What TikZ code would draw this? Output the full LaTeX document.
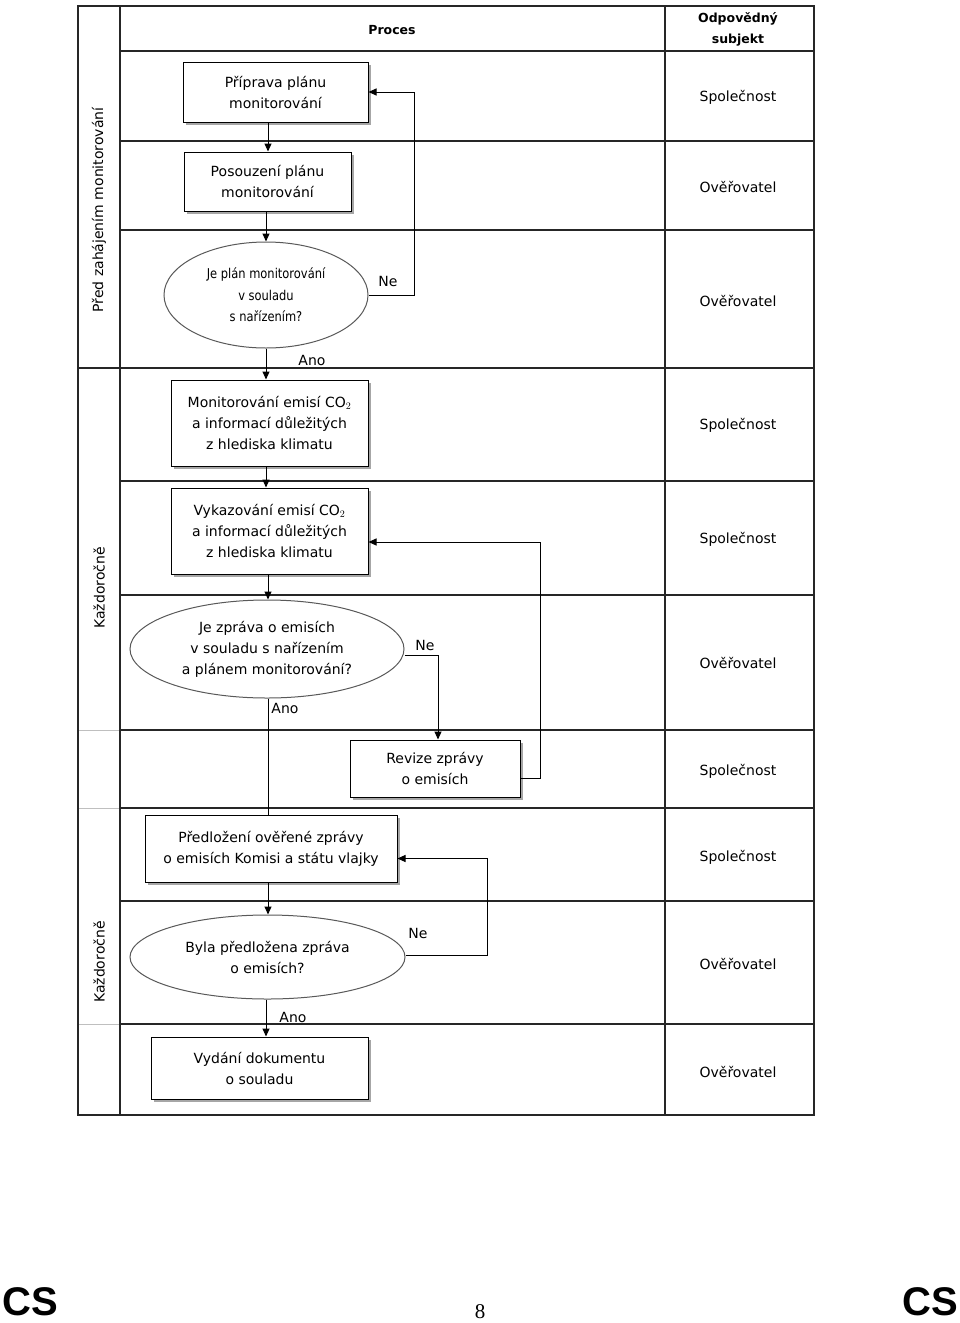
\documentclass[tikz,border=0pt]{standalone}
\usepackage{fontspec}
\setmainfont{DejaVu Sans}
\newfontfamily\condfont[FakeStretch=0.85]{DejaVu Sans}
\newfontfamily\csfont{Liberation Sans}
\newfontfamily\numfont{Liberation Serif}
\usetikzlibrary{arrows.meta,shapes.geometric,shadows,calc}
\begin{document}
\begin{tikzpicture}[x=1pt,y=-1pt,
  tbl/.style={line width=1.3pt, black!85},
  faint/.style={line width=1pt, black!25},
  proc/.style={draw, line width=1pt, fill=white, align=center, inner sep=0pt,
    font=\fontsize{14}{21}\selectfont,
    drop shadow={shadow xshift=3pt, shadow yshift=-3pt, fill=black!35, opacity=1}},
  dec/.style={ellipse, draw=black!65, line width=1pt, fill=white, align=center, inner sep=0pt,
    font=\fontsize{14}{21}\selectfont},
  arr/.style={line width=1pt, -{Triangle[length=8pt,width=7pt]}},
  ln/.style={line width=1pt},
  lbl/.style={font=\fontsize{14}{16}\selectfont, inner sep=0pt},
  head/.style={font=\bfseries\fontsize{12.5}{21}\selectfont, align=center, inner sep=0pt},
  side/.style={font=\fontsize{14}{16}\selectfont, rotate=90, inner sep=0pt},
  who/.style={font=\fontsize{14}{16}\selectfont, inner sep=0pt}
]
\useasboundingbox (0,0) rectangle (960,1323);

% table grid
\draw[tbl] (78,6) rectangle (814,1115);
\draw[tbl] (120,6) -- (120,1115);
\draw[tbl] (665,6) -- (665,1115);
\draw[tbl] (120,51) -- (814,51);
\foreach \yy in {141,230,481,595,730,808,901,1024}
  \draw[tbl] (120,\yy) -- (814,\yy);
\draw[tbl] (78,368) -- (814,368);
\foreach \yy in {730,808,1024}
  \draw[faint] (79,\yy) -- (119,\yy);

% headers
\node[head] (hproc) at (392,30) {Proces};
\node[head] (hsubj) at (738,29) {Odpovědný\\subjekt};

% side labels
\node[side] (s1) at (99,210) {Před zahájením monitorování};
\node[side] (s2) at (99,588) {Každoročně};
\node[side] (s3) at (99,962) {Každoročně};

% responsible subjects
\node[who] (w1) at (738,97) {Společnost};
\node[who] (w2) at (738,187) {Ověřovatel};
\node[who] (w3) at (738,301) {Ověřovatel};
\node[who] (w4) at (738,425) {Společnost};
\node[who] (w5) at (738,539) {Společnost};
\node[who] (w6) at (738,663) {Ověřovatel};
\node[who] (w7) at (738,771) {Společnost};
\node[who] (w8) at (738,857) {Společnost};
\node[who] (w9) at (738,964) {Ověřovatel};
\node[who] (w10) at (738,1072) {Ověřovatel};

% process nodes
\node[proc, minimum width=185pt, minimum height=60pt] (b1) at (275.5,92) {Příprava plánu\\monitorování};
\node[proc, minimum width=167pt, minimum height=59pt] (b2) at (267.5,181.5) {Posouzení plánu\\monitorování};
\node[dec, minimum width=204pt, minimum height=106pt, font=\condfont\fontsize{13.5}{21.5}\selectfont] (e1) at (266,295) {Je plán monitorování\\v souladu\\s nařízením?};
\node[proc, minimum width=197pt, minimum height=86pt] (b4) at (269.5,423) {Monitorování emisí CO$_2$\\a informací důležitých\\z hlediska klimatu};
\node[proc, minimum width=197pt, minimum height=86pt] (b5) at (269.5,531) {Vykazování emisí CO$_2$\\a informací důležitých\\z hlediska klimatu};
\node[dec, minimum width=274pt, minimum height=98pt] (e2) at (267,649) {Je zpráva o emisích\\v souladu s nařízením\\a plánem monitorování?};
\node[proc, minimum width=170pt, minimum height=57pt] (b7) at (435,768.5) {Revize zprávy\\o emisích};
\node[proc, minimum width=252pt, minimum height=67pt] (b8) at (271,848.5) {Předložení ověřené zprávy\\o emisích Komisi a státu vlajky};
\node[dec, minimum width=275pt, minimum height=84pt] (e3) at (267.5,957) {Byla předložena zpráva\\o emisích?};
\node[proc, minimum width=217pt, minimum height=62pt] (b10) at (259.5,1068) {Vydání dokumentu\\o souladu};

% column coordinates
\coordinate (c268) at (268,0);
\coordinate (c266) at (266,0);
\coordinate (c438) at (438,0);

% connectors
\draw[arr] (b1.south -| c268) -- (b2.north -| c268);
\draw[arr] (b2.south -| c266) -- (e1.north -| c266);
\draw[arr] (e1.east) -- ++(46,0) |- (b1.east);
\draw[arr] (e1.south -| c266) -- (b4.north -| c266);
\draw[arr] (b4.south -| c266) -- (b5.north -| c266);
\draw[arr] (b5.south -| c268) -- (e2.north -| c268);
\draw[arr] ($(e2.east)+(0,6)$) -| (b7.north -| c438);
\draw[ln] (e2.south -| c268) -- (b8.north -| c268);
\draw[arr] ($(b7.east)+(0,10)$) -- ++(20,0) |- ($(b5.east)+(0,11)$);
\draw[arr] (b8.south -| c268) -- (e3.north -| c268);
\draw[arr] ($(e3.east)+(0,-2)$) -- ++(82,0) |- ($(b8.east)+(0,10)$);
\draw[arr] (e3.south -| c266) -- (b10.north -| c266);

% connector labels
\node[lbl] (n1) at (388,281) {Ne};
\node[lbl] (a1) at (312,360) {Ano};
\node[lbl] (n2) at (425,645) {Ne};
\node[lbl] (a2) at (285,708) {Ano};
\node[lbl] (n3) at (418,933) {Ne};
\node[lbl] (a3) at (293,1017) {Ano};

% footer
\node[font=\csfont\bfseries\fontsize{40}{40}\selectfont, anchor=base west, inner sep=0pt] (csl) at (2,1315) {CS};
\node[font=\csfont\bfseries\fontsize{40}{40}\selectfont, anchor=base east, inner sep=0pt] (csr) at (958,1315) {CS};
\node[font=\numfont\fontsize{21}{21}\selectfont, anchor=base, inner sep=0pt] (pg) at (480,1318) {8};
\end{tikzpicture}
\end{document}
